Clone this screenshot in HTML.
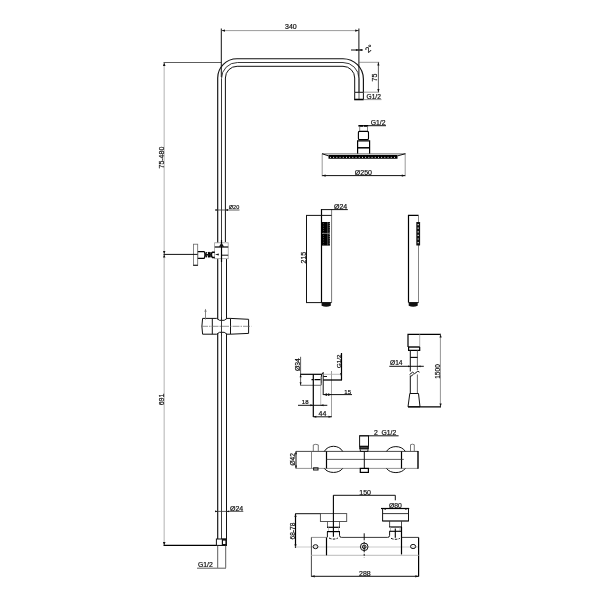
<!DOCTYPE html>
<html><head><meta charset="utf-8">
<style>
html,body{margin:0;padding:0;background:#fff;}
body{width:600px;height:600px;overflow:hidden;}
svg{display:block;filter:blur(.3px);}
text{font-family:"Liberation Sans",sans-serif;font-size:7px;fill:#111;stroke:#111;stroke-width:.2px;}
.k{stroke:#111;stroke-width:1;fill:none;}
.b{stroke:#000;stroke-width:1.4;fill:none;}
.m{stroke:#333;stroke-width:.8;fill:none;}
.t{stroke:#555;stroke-width:.6;fill:none;}
.g{stroke:#c4c4c4;stroke-width:1.3;fill:none;}
.l{stroke:#bbb;stroke-width:.8;fill:none;}
.f{fill:#111;stroke:none;}
.w{fill:#fff;}
</style></head><body>
<svg width="600" height="600" viewBox="0 0 600 600">
<rect width="600" height="600" fill="#fff"/>

<!-- ===== COLUMN ===== -->
<g id="column">
<!-- long vertical dimension line -->
<line class="g" x1="164.2" y1="63" x2="164.2" y2="545"/>
<path class="f" d="M164.2 62.5l-1.3 3.5h2.6z M164.2 545.5l-1.3-3.5h2.6z M164.2 254.3l-1.2-3.2h2.4z M164.2 254.3l-1.2 3.2h2.4z"/>
<line class="m" x1="163.5" y1="62.5" x2="221.3" y2="62.5"/>
<line class="k" x1="163.5" y1="254.4" x2="198" y2="254.4"/>
<line class="b" x1="163.500" y1="545.400" x2="226.500" y2="545.400" style="stroke-width:1.250"/>
<text transform="translate(164,168.5) rotate(-90)">75-480</text>
<text transform="translate(164,405.3) rotate(-90)">691</text>

<!-- 340 dim -->
<line class="k" x1="221.3" y1="28.5" x2="221.3" y2="77"/>
<line class="t" x1="221.3" y1="30.6" x2="358.9" y2="30.6"/>
<line class="k" x1="358.9" y1="28.5" x2="358.9" y2="76"/><line class="m" x1="359" y1="76" x2="359" y2="99"/>
<path class="f" d="M221.5 30.6l3.5-1.1v2.2z M358.7 30.6l-3.5-1.1v2.2z"/>
<text x="285" y="28.6">340</text>

<!-- 2 deg -->
<line class="k" x1="351" y1="50" x2="363" y2="50"/>
<path class="f" d="M358.9 50l-3-1v2z M358.9 50l3-1v2z"/>
<text transform="translate(368.2,53.2) rotate(-42)" style="font-size:8px">2°</text>

<!-- pipe -->
<path class="k" d="M217.7 539V78a19.3 19.3 0 0 1 19.3-19.3H343a20.4 20.4 0 0 1 20.400 20.400V92.300" style="stroke-width:1.150"/>
<path class="k" d="M221.5 539V78.5a16 16 0 0 1 16-16H343a16 16 0 0 1 16 16V92" style="stroke:#222;stroke-width:.9"/>
<path class="k" d="M225.4 242V78a11.7 11.7 0 0 1 11.7-11.7H343a11.7 11.7 0 0 1 11.7 11.7V92.3"/>
<path class="k" d="M226.5 259V539"/>
<!-- arm nut -->
<path class="k" d="M354.7 92.3h8.7v7h-8.7z"/>
<line class="b" x1="354.2" y1="99.6" x2="363.6" y2="99.6"/>
<line class="t" x1="363" y1="99.6" x2="381.5" y2="99.6"/>
<text x="366.5" y="98.7" style="font-size:6.6px">G1/2</text>
<!-- 75 dim -->
<line class="t" x1="358.9" y1="62.3" x2="379.2" y2="62.3"/>
<line class="t" x1="363.4" y1="92.2" x2="379.2" y2="92.2"/>
<line class="m" x1="378.4" y1="62.3" x2="378.4" y2="92.2"/>
<path class="f" d="M378.4 62.3l-1.1 3.3h2.2z M378.4 92.2l-1.1-3.3h2.2z"/>
<text transform="translate(377.2,81.5) rotate(-90)">75</text>

<!-- O20 dim -->
<line class="m" x1="216.5" y1="210" x2="239.5" y2="210"/>
<path class="f" d="M218 210l-2.6-.9v1.8z M225.4 210l2.6-.9v1.8z"/>
<text x="228.8" y="208.9" style="font-size:5.5px">Ø20</text>

<!-- bracket -->
<rect class="w" x="214.600" y="242.800" width="13.600" height="15.900"/>
<rect x="214.600" y="242.800" width="13.600" height="15.900" fill="none" stroke="#999" stroke-width=".8"/>
<line class="b" x1="214.800" y1="247" x2="228.200" y2="247" style="stroke-width:1.200"/>
<line class="k" x1="221.500" y1="255.200" x2="228.200" y2="255.200"/>
<line class="b" x1="221.500" y1="240" x2="221.500" y2="262" style="stroke-width:1.200"/>
<path class="f" d="M221.500 242.800l-2.600 4h5.200z"/>
<path class="f" d="M215 254.500l3.800-1.100v2.200z"/>
<!-- wall plate -->
<rect x="193.400" y="244.200" width="4.300" height="21" fill="#fff" stroke="#666" stroke-width=".8"/>
<line class="k" x1="193.200" y1="265.300" x2="197.900" y2="265.300"/>
<line class="k" x1="193" y1="254.400" x2="198" y2="254.400"/>
<path class="b" d="M197.800 251.600h6.400q1.300 3.400 0 6.800h-6.400" style="stroke-width:1.100"/>
<line x1="197.800" y1="251.600" x2="197.800" y2="258.400" stroke="#777" stroke-width=".7"/>
<path class="b" d="M206.500 252.200q-1.500 2.600 0 5.200M208.300 252.200q1.300 2.600 0 5.200M210.300 252.200q-1.300 2.600 0 5.200M212 252.200h2.800M212 257.400h2.800M212.200 252.200q-1.600 2.600 0 5.200" style="stroke-width:1.500"/>
<line class="k" x1="205" y1="254.800" x2="212" y2="254.800" style="stroke-width:1.600"/>

<!-- slider holder -->
<path class="w" d="M202 318.400h14.700l2.800 1.900h4.700l2.800-1.900h3.500l18.100.9v14.100l-18.100.8h-3.500l-2.800-1.900h-4.700l-2.800 1.900h-14.700z"/>
<path class="k" d="M202.600 318.400h14.100l2.800 1.900h4.700l2.800-1.900h3.500l18.100.9v14.100l-18.100.8h-3.500l-2.800-1.900h-4.700l-2.800 1.900h-14.100q-1.400-7.900 0-15.800z"/>
<line class="k" x1="212.300" y1="318.400" x2="212.300" y2="334.200"/>
<line class="k" x1="230.500" y1="318.400" x2="230.500" y2="334.200"/>
<line class="k" x1="221.500" y1="317" x2="221.500" y2="336" style="stroke:#222;stroke-width:.9"/>
<line class="t" x1="201" y1="326.300" x2="251.300" y2="326.300" style="stroke:#666;stroke-width:.7" stroke-dasharray="7 1 1.500 1"/>
<line x1="205.500" y1="309.500" x2="205.500" y2="319.500" stroke="#777" stroke-width=".9"/>
<path d="M205.500 308.800l-1.200 3h2.400z" fill="#777"/>

<!-- O24 dim bottom -->
<line class="m" x1="215" y1="511.4" x2="243.3" y2="511.4"/>
<path class="f" d="M217.7 511.4l-2.6-.9v1.8z M226.5 511.4l2.6-.9v1.8z"/>
<text x="230" y="510.5">Ø24</text>
<!-- bottom nut -->
<rect class="w" x="216.4" y="539" width="10" height="6.4"/>
<rect class="k" x="216.4" y="539" width="10" height="6.4"/>
<path class="f" d="M221.8 538.6h5v7.2h-5z"/>
<rect class="w" x="223" y="540.6" width="2.4" height="3.4"/>
<line class="m" x1="217.7" y1="545.4" x2="217.7" y2="567.8"/>
<line class="m" x1="225.7" y1="545.4" x2="225.7" y2="567.8"/>
<line class="m" x1="197" y1="568.200" x2="226" y2="568.200"/>
<text x="198" y="567" style="font-size:6.8px">G1/2</text>
</g>

<!-- ===== SHOWER HEAD ===== -->
<g id="head">
<text x="370.800" y="124.900" style="font-size:6.800px">G1/2</text>
<line class="k" x1="358.500" y1="125.700" x2="386" y2="125.700"/>
<line class="b" x1="358.600" y1="125.800" x2="368.200" y2="125.800" style="stroke-width:1.700" stroke-dasharray="4.400 .700"/>
<path d="M359.700 126v5.200M367.500 126v5.200" stroke="#666" stroke-width=".8" fill="none"/>
<rect class="b" x="358.400" y="131.400" width="10.100" height="8.200" rx="1" style="stroke-width:1.100"/>
<path class="b" d="M357.600 153.800v-13h12v13" style="stroke-width:1.200"/>
<line class="b" x1="357.600" y1="147.800" x2="369.600" y2="147.800" style="stroke-width:1.500"/>
<line x1="322" y1="153.900" x2="405.400" y2="153.900" stroke="#444" stroke-width=".8"/>
<line x1="328.500" y1="156.900" x2="397.500" y2="156.900" stroke="#000" stroke-width="3.600"/>
<line x1="330" y1="157.400" x2="397" y2="157.400" stroke="#fff" stroke-width="1" stroke-dasharray=".9 2.300"/>
<path class="k" d="M322 153.700l6.500 2.200M405.400 153.700l-7.900 2.200"/>
<line class="t" x1="322.2" y1="153.700" x2="322.2" y2="176.3"/>
<line class="t" x1="405.2" y1="153.700" x2="405.2" y2="176.3"/>
<line class="k" x1="322.2" y1="175.6" x2="405.2" y2="175.6"/>
<path class="f" d="M322.2 175.6l3.4-1.1v2.2z M405.2 175.6l-3.4-1.1v2.2z"/>
<text x="354.8" y="174.6">Ø250</text>
</g>

<!-- ===== HAND SHOWER FRONT ===== -->
<g id="hs1">
<line class="b" x1="321.500" y1="209" x2="321.500" y2="302.600" style="stroke-width:1.200"/>
<line class="m" x1="331.600" y1="209" x2="331.600" y2="302.600" style="stroke:#555"/>
<line class="k" x1="321.3" y1="209.6" x2="347.8" y2="209.6"/>
<text x="334" y="208.8">Ø24</text>
<line class="k" x1="306" y1="215.4" x2="331.6" y2="215.4"/>
<line class="k" x1="306.5" y1="215.4" x2="306.5" y2="302.6"/>
<line class="k" x1="306" y1="302.6" x2="331.6" y2="302.6"/>
<text transform="translate(305.6,263.5) rotate(-90)">215</text>
<rect x="322" y="222" width="7.900" height="23.600" fill="#000"/>
<line x1="322" y1="233.400" x2="330" y2="233.400" stroke="#ccc" stroke-width=".6"/>
<line x1="327.700" y1="222" x2="327.700" y2="245.600" stroke="#999" stroke-width=".5"/>
<path d="M323.500 223.500v21" stroke="#bbb" stroke-width=".6" stroke-dasharray=".6 1.700"/>
<path d="M329.300 223v22" stroke="#ddd" stroke-width=".7" stroke-dasharray=".7 1.500"/>
<path class="f" d="M321.6 302.6h9.2v3.2q-4.6 2-9.2 0z"/>
</g>

<!-- ===== HAND SHOWER SIDE ===== -->
<g id="hs2">
<path class="b" d="M408.5 302.6V215.3H418.6" style="stroke-width:1.2"/>
<line class="t" x1="418.5" y1="215.3" x2="418.5" y2="302.6" style="stroke:#666;stroke-width:.8"/>
<line class="k" x1="408.5" y1="302.6" x2="418.6" y2="302.6"/>
<rect class="f" x="416.3" y="222" width="3.8" height="23.6" rx=".6"/>
<path d="M418.2 224v20" stroke="#ddd" stroke-width="1.3" stroke-dasharray="1.2 2.4"/>
<path class="f" d="M408.7 302.6h9v3.2q-4.5 2-9 0z"/>
</g>

<!-- ===== ELBOW ===== -->
<g id="elbow">
<text transform="translate(300.2,371) rotate(-90)" style="font-size:6.8px">Ø34</text>
<line class="m" x1="300.6" y1="356.8" x2="300.6" y2="385.4"/>
<path class="f" d="M300.6 374.3l-1 3h2z M300.6 385.3l-1-3h2z"/>
<line class="b" x1="300.3" y1="374.3" x2="322" y2="374.3" style="stroke-width:1.2"/>
<line class="m" x1="300.300" y1="385.300" x2="321" y2="385.300" style="stroke:#444"/>
<line class="b" x1="313.3" y1="374.3" x2="313.3" y2="417" style="stroke-width:1.2"/>
<line class="l" x1="320.700" y1="385.300" x2="320.700" y2="405.500" style="stroke:#aaa"/>
<line class="k" x1="323.2" y1="372.5" x2="323.2" y2="395"/>
<path class="k" d="M323.300 372.300q-2.300 2.300-2.100 5v6q.1 1.500 -.2 2"/>
<line class="l" x1="331.5" y1="371" x2="331.5" y2="417" style="stroke:#888"/>
<line class="l" x1="323.2" y1="374.3" x2="341.500" y2="374.3" style="stroke:#aaa"/>
<line class="b" x1="323.200" y1="380" x2="341.800" y2="380" style="stroke-width:1.300"/>
<line class="b" x1="341.5" y1="353" x2="341.5" y2="380.300" style="stroke-width:1.2"/>
<path class="f" d="M341.500 377.500l-1.400-4.500h1.400z"/>
<text transform="translate(340.600,368) rotate(-90)" style="font-size:6.200px">G1/2</text>
<line class="b" x1="311.500" y1="379.600" x2="320.500" y2="379.600" stroke-dasharray="1.600 1.400 6 1" style="stroke-width:1.100"/><line class="k" x1="323.300" y1="376.500" x2="327" y2="376.500"/>
<!-- 15 -->
<line class="k" x1="323.2" y1="394.6" x2="352" y2="394.6"/>
<path class="f" d="M323.400 394.600l3.600-1.300v2.600z M331.500 394.600l-3.600-1.300v2.600z"/>
<text x="344.300" y="393.800" style="font-size:6px">15</text>
<!-- 18 -->
<line class="k" x1="298" y1="405.3" x2="327.300" y2="405.3"/>
<path class="f" d="M313.3 405.3l-3-1v2z M320.500 405.300l3-1v2z"/>
<text x="301.800" y="404.400" style="font-size:6px">18</text>
<!-- 44 -->
<line class="k" x1="313.3" y1="416.8" x2="331.8" y2="416.8"/>
<path class="f" d="M313.3 416.800l3-1v2z M331.500 416.800l-3-1v2z"/>
<text x="318.500" y="416">44</text>
</g>

<!-- ===== HOSE ===== -->
<g id="hose">
<path class="b" d="M408 347V334.300H441" style="stroke-width:1.2"/>
<line class="l" x1="419.700" y1="334.300" x2="419.700" y2="347" style="stroke:#999"/>
<line class="b" x1="408" y1="347" x2="419.700" y2="347"/>
<path class="b" d="M408.600 347v3.300h11.100v-3.300" style="stroke-width:1.200"/>
<line x1="440.400" y1="334.300" x2="440.400" y2="406.800" stroke="#888" stroke-width=".9"/>
<path class="f" d="M440.600 334.300l-1.100 3.300h2.200z M440.600 406.800l-1.100-3.300h2.200z"/>
<text transform="translate(439.600,378.800) rotate(-90)" style="font-size:6.600px">1500</text>
<path class="k" d="M410.300 350V371.500M410.300 375.500V393.500"/>
<path class="m" d="M417.400 350V370M417.400 374.500V393.500" style="stroke:#444"/>
<line class="b" x1="410.300" y1="357.400" x2="417.500" y2="357.400" style="stroke-width:1.100"/>
<path class="k" d="M409.600 374.500l3-2.300l2 1.500l3.200-2.500l1.700 1M410.600 376.500l3-2.300"/>
<line class="k" x1="389.300" y1="366.300" x2="423.800" y2="366.300"/>
<path class="f" d="M410.600 366.300l-2.600-.9v1.800z M418 366.300l2.600-.9v1.800z"/>
<text x="390" y="365.200" style="font-size:6.600px">Ø14</text>
<path class="k" d="M409.800 393.500h8.700l1.500 13.300h-12z"/>
<line class="b" x1="408" y1="406.800" x2="441" y2="406.800" style="stroke-width:1.200"/>
</g>

<!-- ===== MIXER TOP VIEW ===== -->
<g id="mixtop">
<text transform="translate(294.800,465.600) rotate(-90)" style="font-size:6.600px">Ø42</text>
<line class="k" x1="296" y1="451.300" x2="296" y2="468.500"/>
<path class="f" d="M296 451.300l-1 3h2z M296 468.500l-1-3h2z"/>
<line class="m" x1="296" y1="451.400" x2="418" y2="451.400" style="stroke:#333;stroke-width:.9"/>
<line class="m" x1="296" y1="468.400" x2="418" y2="468.400" style="stroke:#777"/>
<line class="m" x1="311.500" y1="451.400" x2="311.500" y2="468.400" style="stroke:#666"/>
<line class="b" x1="326.500" y1="451.400" x2="326.500" y2="468.400" style="stroke-width:1.200"/>
<line class="b" x1="401.500" y1="451.400" x2="401.500" y2="468.400" style="stroke-width:1.200"/>
<line class="b" x1="418" y1="451" x2="418" y2="468.800"/>
<line class="m" x1="326.500" y1="459.400" x2="403.800" y2="459.400"/>
<path class="k" d="M324.300 451.400C328 444.600 339 444.600 342.700 451.400M324.300 468.400C328 473.800 339 473.800 342.700 468.400"/>
<path class="k" d="M386.500 451.400C390.300 445 401.500 445 405.300 451.400M386.500 468.400C390.300 474 401.500 474 405.300 468.400"/>
<path class="m" d="M313.300 451.400v-6.500q2.500-1.200 5 0v6.500" style="stroke:#555"/>
<path class="m" d="M410.500 451.400v-6.700q1.900-1 3.800 0v6.700" style="stroke:#555"/>
<rect class="k" x="313.600" y="467.800" width="4.400" height="2.200"/>
<!-- center connector -->
<text x="374" y="435" style="font-size:6.800px">2&#160;&#160;G1/2</text>
<line class="k" x1="359.500" y1="435.800" x2="398.600" y2="435.800"/>
<rect class="k" x="359.600" y="435.800" width="8.900" height="10.400"/>
<rect class="f" x="359.200" y="446" width="9.700" height="3.400"/>
<line x1="360.500" y1="447.700" x2="367.600" y2="447.700" stroke="#999" stroke-width=".5"/>
<path class="k" d="M360.300 449.400v2h7.600v-2"/>
<line class="k" x1="364.300" y1="451.400" x2="364.300" y2="468.400"/>
<rect class="b" x="360.300" y="468.400" width="8.100" height="4" style="stroke-width:1.200"/>
</g>

<!-- ===== MIXER FRONT VIEW ===== -->
<g id="mixfront">
<!-- 150 -->
<line class="k" x1="333.300" y1="495.300" x2="395.300" y2="495.300"/>
<line class="k" x1="395.300" y1="495.300" x2="395.300" y2="500.300"/>
<text x="359.300" y="494.500">150</text>
<!-- 68-78 -->
<line class="k" x1="295.300" y1="513.700" x2="320.800" y2="513.700"/>
<line class="b" x1="295.500" y1="513.700" x2="295.500" y2="548" style="stroke-width:1.200"/>
<path class="f" d="M295.500 513.700l-1.100 3.300h2.200z M295.500 547.500l-1.100-3.300h2.200z"/>
<text transform="translate(295,539.500) rotate(-90)" style="font-size:6.600px">68-78</text>
<line class="l" x1="295.500" y1="547" x2="418.700" y2="547" style="stroke:#ccc;stroke-width:1.200"/>
<!-- left handle -->
<rect x="320.400" y="513.600" width="26.300" height="7.900" fill="none" stroke="#444" stroke-width=".9"/>
<path d="M327.500 521.500v5.800M339.500 521.500v5.800" stroke="#444" stroke-width=".8" fill="none"/>
<line class="b" x1="327" y1="527.300" x2="340" y2="527.300" style="stroke-width:1.200"/>
<path d="M328.500 527.300v4.300M338.500 527.300v4.300" stroke="#aaa" stroke-width=".7" fill="none"/>
<line class="b" x1="327" y1="531.600" x2="340" y2="531.600" style="stroke-width:1.200"/>
<path class="k" d="M327.400 531.600V537.300M339.500 531.600V535.300Q339.500 537.400 341.500 537.400"/>
<path class="k" d="M329 538q4.500 2.200 9 0" stroke-dasharray="2.600 1.300"/>
<line class="b" x1="333.400" y1="495.300" x2="333.400" y2="536.700" style="stroke-width:1.100"/>
<!-- right handle -->
<text x="389" y="507.500" style="font-size:6.800px">Ø80</text>
<line class="b" x1="381" y1="508.500" x2="409.200" y2="508.500" style="stroke-width:1.200"/>
<path class="f" d="M382.600 508.500l3.200 0 0 1.500z M408.500 508.500l-3.200 0 0 1.500z"/>
<path class="k" d="M382.600 508.500V521M408.500 508.500V521"/>
<line class="b" x1="382.200" y1="521" x2="408.900" y2="521" style="stroke-width:1.200"/>
<line class="k" x1="382.600" y1="513.600" x2="408.500" y2="513.600" style="stroke:#222;stroke-width:.9"/>
<path d="M389.600 521v6M401.500 521v6" stroke="#333" stroke-width=".9" fill="none"/>
<line class="b" x1="389.200" y1="527" x2="401.900" y2="527" style="stroke-width:1.200"/>
<path d="M390.500 527v4.300M400 527v4.300" stroke="#999" stroke-width=".7" fill="none"/>
<line class="b" x1="389.200" y1="531.300" x2="401.900" y2="531.300" style="stroke-width:1.100"/>
<path class="k" d="M389.600 531.300V535.400Q389.600 537.400 387.600 537.400"/>
<line class="b" x1="401.500" y1="527" x2="401.500" y2="554.500" style="stroke-width:1.200"/>
<line class="b" x1="395.300" y1="528.500" x2="395.300" y2="537.700" style="stroke-width:1.100"/>
<path class="k" d="M391 538.300q4.500 2 9 0" stroke-dasharray="2.600 1.300"/>
<!-- body -->
<line x1="311.300" y1="537.400" x2="326.500" y2="537.400" stroke="#777" stroke-width=".8"/>
<line class="k" x1="341.500" y1="537.400" x2="387.600" y2="537.400" style="stroke:#222;stroke-width:.9"/>
<line class="k" x1="401.500" y1="537.400" x2="418.700" y2="537.400" style="stroke:#222;stroke-width:.9"/>
<line class="k" x1="311.400" y1="537.400" x2="311.400" y2="576.600" style="stroke:#333;stroke-width:.9"/>
<line class="b" x1="418.600" y1="537.400" x2="418.600" y2="576.600" style="stroke-width:1.200"/>
<line class="l" x1="311.300" y1="555.300" x2="418.700" y2="555.300" style="stroke:#bbb;stroke-width:1"/>
<line class="b" x1="326.500" y1="537.400" x2="326.500" y2="555.300" style="stroke-width:1.200"/>
<ellipse class="k" cx="315.500" cy="546.700" rx="2.400" ry="2"/>
<ellipse class="k" cx="413.100" cy="546.500" rx="2.600" ry="2.100"/>
<circle class="k" cx="364.200" cy="546.800" r="3.800"/>
<circle class="k" cx="364.200" cy="546.800" r="1.800"/>
<line class="k" x1="364.200" y1="533.300" x2="364.200" y2="557.600" stroke-dasharray="7 1.500 2 1.500"/>
<!-- 288 -->
<line class="k" x1="311.300" y1="576.300" x2="418.700" y2="576.300"/>
<path class="f" d="M311.300 576.300l3.400-1.100v2.200z M418.700 576.300l-3.400-1.100v2.200z"/>
<text x="359" y="575.500">288</text>
</g>
</svg>
</body></html>
